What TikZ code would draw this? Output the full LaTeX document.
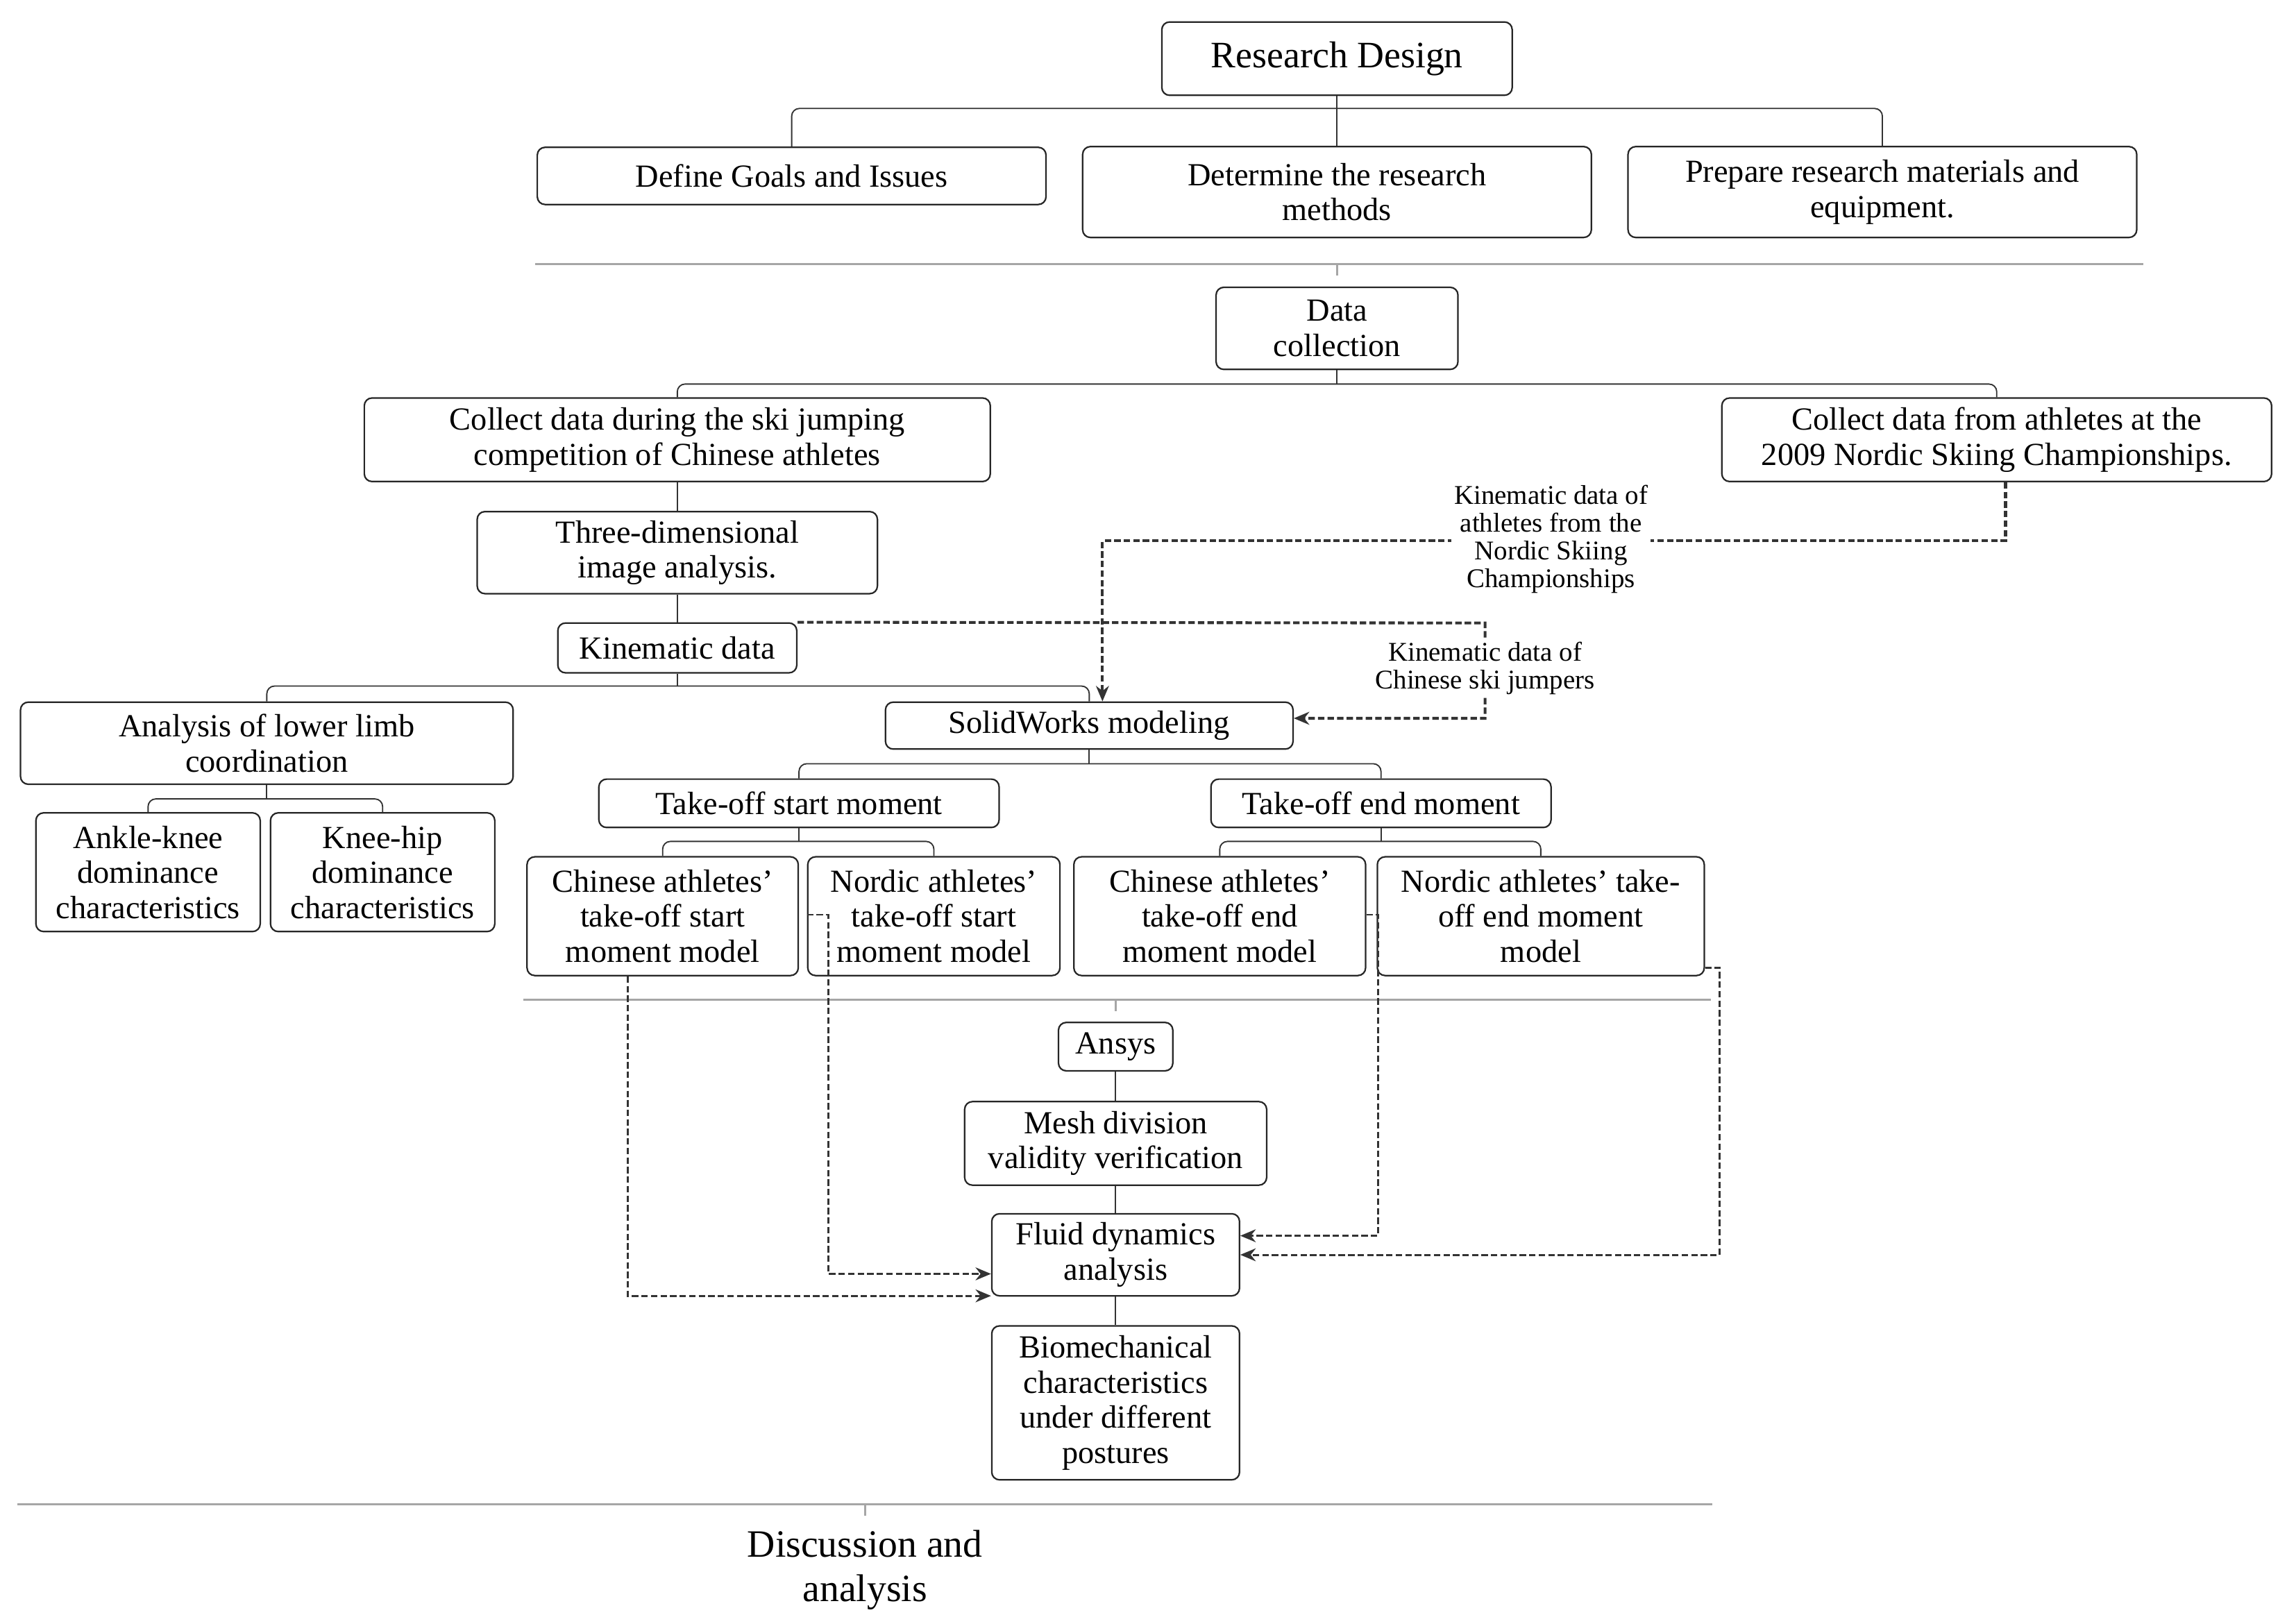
\documentclass[tikz,border=0pt]{standalone}
\usepackage{fontspec}
\setmainfont{Liberation Serif}
\usetikzlibrary{arrows.meta}
\begin{document}
\begin{tikzpicture}[x=0.02cm,y=-0.02cm,
  box/.style={draw=black!85,line width=0.6pt,rounded corners=3pt,align=center,inner sep=1pt,font=\fontsize{12.5}{13.6}\selectfont,fill=white},
  ln/.style={draw=black!80,line width=0.5pt,rounded corners=3pt},
  sep/.style={draw=black!35,line width=0.8pt},
  da/.style={draw=black!80,line width=1.1pt,dash pattern=on 2.5pt off 1.2pt,-{Stealth[length=6pt,width=5pt]}},
  lab/.style={align=center,fill=white,inner sep=1pt,font=\fontsize{10.5}{10.8}\selectfont}]
\useasboundingbox (0,0) rectangle (1560,1107.4);
% top
\node[box,minimum width=239*0.02cm,minimum height=50*0.02cm,font=\fontsize{14.5}{16}\selectfont] (rd) at (912,40) {Research Design};
\node[box,minimum width=347*0.02cm,minimum height=39*0.02cm] (g) at (540,120) {Define Goals and Issues};
\node[box,minimum width=347*0.02cm,minimum height=62*0.02cm] (m) at (912,131) {Determine the research\\methods};
\node[box,minimum width=347*0.02cm,minimum height=62*0.02cm] (p) at (1284,131) {Prepare research materials and\\equipment.};
\draw[ln] (g.north) |- (912,74) -| (p.north);
\draw[ln] (rd.south) -- (m.north);
\draw[sep] (365,180) -- (1462,180) (912,180) -- (912,188);
% data
\node[box,minimum width=165*0.02cm,minimum height=56*0.02cm] (dc) at (912,224) {Data\\collection};
\node[box,minimum width=427*0.02cm,minimum height=57*0.02cm] (cc) at (462,300) {Collect data during the ski jumping\\competition of Chinese athletes};
\node[box,minimum width=375*0.02cm,minimum height=57*0.02cm] (cn) at (1362,300) {Collect data from athletes at the\\2009 Nordic Skiing Championships.};
\draw[ln] (cc.north) |- (912,262) -| (cn.north);
\draw[ln] (dc.south) -- (912,262);
\node[box,minimum width=273*0.02cm,minimum height=56*0.02cm] (td) at (462,377) {Three-dimensional\\image analysis.};
\node[box,minimum width=163*0.02cm,minimum height=34*0.02cm] (kd) at (462,442) {Kinematic data};
\draw[ln] (cc.south) -- (td.north) (td.south) -- (kd.north);
\node[box,minimum width=336*0.02cm,minimum height=56*0.02cm] (al) at (182,507) {Analysis of lower limb\\coordination};
\node[box,minimum width=278*0.02cm,minimum height=32*0.02cm] (sw) at (743,495) {SolidWorks modeling};
\draw[ln] (al.north) |- (462,468) -| (sw.north);
\draw[ln] (kd.south) -- (462,468);
\node[box,minimum width=153*0.02cm,minimum height=81*0.02cm] (ak) at (101,595) {Ankle-knee\\dominance\\characteristics};
\node[box,minimum width=153*0.02cm,minimum height=81*0.02cm] (kh) at (261,595) {Knee-hip\\dominance\\characteristics};
\draw[ln] (ak.north) |- (182,545) -| (kh.north);
\draw[ln] (al.south) -- (182,545);
\node[box,minimum width=273*0.02cm,minimum height=33*0.02cm] (ts) at (545,548) {Take-off start moment};
\node[box,minimum width=232*0.02cm,minimum height=33*0.02cm] (te) at (942,548) {Take-off end moment};
\draw[ln] (ts.north) |- (743,521) -| (te.north);
\draw[ln] (sw.south) -- (743,521);
\node[box,minimum width=185*0.02cm,minimum height=81*0.02cm] (m1) at (452,625) {Chinese athletes'\\take-off start\\moment model};
\node[box,minimum width=172*0.02cm,minimum height=81*0.02cm] (m2) at (637,625) {Nordic athletes'\\take-off start\\moment model};
\node[box,minimum width=199*0.02cm,minimum height=81*0.02cm] (m3) at (832,625) {Chinese athletes'\\take-off end\\moment model};
\node[box,minimum width=223*0.02cm,minimum height=81*0.02cm] (m4) at (1051,625) {Nordic athletes' take-\\off end moment\\model};
\draw[ln] (m1.north) |- (545,574) -| (m2.north);
\draw[ln] (ts.south) -- (545,574);
\draw[ln] (m3.north) |- (942,574) -| (m4.north);
\draw[ln] (te.south) -- (942,574);
\draw[sep] (357,682) -- (1167,682) (761,682) -- (761,690);
% ansys
\node[box,minimum width=78*0.02cm,minimum height=33*0.02cm] (an) at (761,714) {Ansys};
\node[box,minimum width=206*0.02cm,minimum height=57*0.02cm] (me) at (761,780) {Mesh division\\validity verification};
\node[box,minimum width=169*0.02cm,minimum height=56*0.02cm] (fl) at (761,856) {Fluid dynamics\\analysis};
\node[box,minimum width=169*0.02cm,minimum height=105*0.02cm] (bi) at (761,957) {Biomechanical\\characteristics\\under different\\postures};
\draw[ln] (an.south) -- (me.north) (me.south) -- (fl.north) (fl.south) -- (bi.north);
\draw[sep] (12,1026) -- (1168,1026) (590,1026) -- (590,1034);
\node[align=center,font=\fontsize{15}{17}\selectfont] (da) at (590,1071) {Discussion and\\analysis};
% dashed connectors
\coordinate (c1) at (1368,369);
\draw[da] (cn.south -| c1) |- (752,369) -- (sw.north -| 752,0);
\node[lab] at (1058,368) {Kinematic data of\\athletes from the\\Nordic Skiing\\Championships};
\draw[da] (kd.north east) -- (1013,425) |- (sw.east |- 0,490);
\node[lab] at (1013,456) {Kinematic data of\\Chinese ski jumpers};
\draw[da,line width=0.8pt] (m1.south -| 428,0) |- (fl.west |- 0,884);
\draw[da,line width=0.8pt] (m2.west |- 0,624) -- (565,624) |- (fl.west |- 0,869);
\draw[da,line width=0.8pt] (m3.east |- 0,624) -- (940,624) |- (fl.east |- 0,843);
\draw[da,line width=0.8pt] (m4.east |- 0,660) -- (1173,660) |- (fl.east |- 0,856);
\end{tikzpicture}
\end{document}
